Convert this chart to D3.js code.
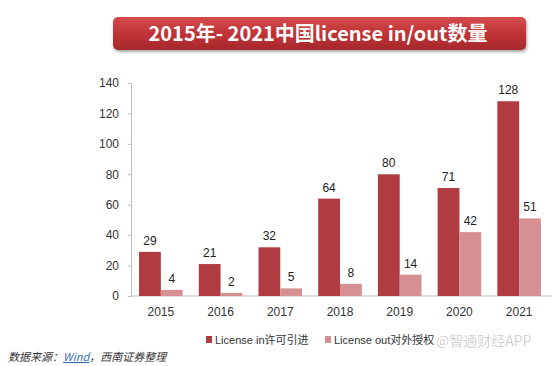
<!DOCTYPE html>
<html>
<head>
<meta charset="utf-8">
<script src="https://cdn.jsdelivr.net/npm/d3@7"></script>
<style>
  body { margin: 0; background: #fff; }
  svg { display: block; }
</style>
</head>
<body>
<div id="chart"></div>
<script>
// data
var years = ["2015", "2016", "2017", "2018", "2019", "2020", "2021"];
var licenseIn = [29, 21, 32, 64, 80, 71, 128];
var licenseOut = [4, 2, 5, 8, 14, 42, 51];
var yTicks = [0, 20, 40, 60, 80, 100, 120, 140];
var seriesNames = ["License in许可引进", "License out对外授权"];
var seriesColors = ["#b03b40", "#d69094"];

var width = 554, height = 366;

var svg = d3.select("#chart")
  .append("svg")
  .attr("width", width)
  .attr("height", height);

var defs = svg.append("defs");
var grad = defs.append("linearGradient")
  .attr("id", "titleGrad")
  .attr("x1", 0).attr("y1", 0).attr("x2", 0).attr("y2", 1);
grad.append("stop").attr("offset", "0%").attr("stop-color", "#d34b4c");
grad.append("stop").attr("offset", "55%").attr("stop-color", "#be3234");
grad.append("stop").attr("offset", "100%").attr("stop-color", "#a5292c");

var shadow = defs.append("filter").attr("id", "shadow")
  .attr("x", "-10%").attr("y", "-30%").attr("width", "120%").attr("height", "180%");
shadow.append("feDropShadow")
  .attr("dx", 1).attr("dy", 2).attr("stdDeviation", 1.5)
  .attr("flood-color", "#000").attr("flood-opacity", 0.35);

// title banner
svg.append("rect")
  .attr("x", 113).attr("y", 17)
  .attr("width", 413).attr("height", 33)
  .attr("rx", 5)
  .attr("fill", "url(#titleGrad)")
  .attr("filter", "url(#shadow)");

svg.append("text")
  .attr("x", 318).attr("y", 41)
  .attr("text-anchor", "middle")
  .attr("fill", "#fff")
  .style("font-family", "'Noto Sans CJK SC', 'Noto Sans', sans-serif")
  .style("font-weight", "bold")
  .style("font-size", "20px")
  .text("2015年- 2021中国license in/out数量");

// scales
var x0 = d3.scaleBand()
  .domain(years)
  .range([131, 549])
  .paddingInner(0.27)
  .paddingOuter(0.135);

var x1 = d3.scaleBand()
  .domain([0, 1])
  .range([0, x0.bandwidth()]);

var y = d3.scaleLinear()
  .domain([0, 140])
  .range([296, 83]);

// y axis
var yAxis = svg.append("g")
  .attr("transform", "translate(131,0)")
  .call(d3.axisLeft(y).tickValues(yTicks).tickSize(3).tickPadding(9));
yAxis.select(".domain").attr("stroke", "#bdbdbd");
yAxis.selectAll(".tick line").attr("stroke", "#bdbdbd");
yAxis.selectAll("text")
  .attr("fill", "#333")
  .style("font-family", "Arial, 'Liberation Sans', sans-serif")
  .style("font-size", "12px");

// x axis
var xAxis = svg.append("g")
  .attr("transform", "translate(0,296)")
  .call(d3.axisBottom(x0).tickSize(0).tickPadding(11));
xAxis.select(".domain").attr("stroke", "#bdbdbd").attr("d", "M131,0H552");
xAxis.selectAll("text")
  .attr("fill", "#333")
  .style("font-family", "Arial, 'Liberation Sans', sans-serif")
  .style("font-size", "12px");

// bars
var rows = years.map(function(d, i) { return [licenseIn[i], licenseOut[i]]; });

var group = svg.append("g").selectAll("g")
  .data(rows)
  .enter().append("g")
  .attr("transform", function(d, i) { return "translate(" + x0(years[i]) + ",0)"; });

group.selectAll("rect")
  .data(function(d) { return d; })
  .enter().append("rect")
  .attr("x", function(d, j) { return x1(j); })
  .attr("y", function(d) { return y(d); })
  .attr("width", x1.bandwidth())
  .attr("height", function(d) { return 296 - y(d); })
  .attr("fill", function(d, j) { return seriesColors[j]; });

group.selectAll("text")
  .data(function(d) { return d; })
  .enter().append("text")
  .attr("x", function(d, j) { return x1(j) + x1.bandwidth() / 2; })
  .attr("y", function(d) { return y(d) - 7; })
  .attr("text-anchor", "middle")
  .attr("fill", "#222")
  .style("font-family", "Arial, 'Liberation Sans', sans-serif")
  .style("font-size", "12px")
  .text(function(d) { return d; });

// legend
var legendX = [206, 325];
var legend = svg.append("g").selectAll("g")
  .data(seriesNames)
  .enter().append("g")
  .attr("transform", function(d, i) { return "translate(" + legendX[i] + ",340)"; });
legend.append("rect")
  .attr("x", 0).attr("y", -4)
  .attr("width", 6).attr("height", 7)
  .attr("fill", function(d, i) { return seriesColors[i]; });
legend.append("text")
  .attr("x", 9).attr("y", 4)
  .attr("fill", "#333")
  .style("font-family", "Arial, 'Noto Sans CJK SC', sans-serif")
  .style("font-size", "11px")
  .text(function(d) { return d; });

// watermark
svg.append("text")
  .attr("x", 436).attr("y", 346)
  .attr("fill", "#d0d0d0")
  .attr("opacity", 0.95)
  .style("font-family", "'Noto Sans CJK SC', sans-serif")
  .style("font-size", "14px")
  .text("@智通财经APP");

// source note
var src = svg.append("text")
  .attr("x", 8).attr("y", 361)
  .attr("fill", "#333")
  .style("font-family", "'Noto Sans CJK SC', sans-serif")
  .style("font-size", "11px")
  .style("font-style", "italic");
src.append("tspan").text("数据来源：");
src.append("tspan").attr("fill", "#3a6fb0").style("text-decoration", "underline").text("Wind");
src.append("tspan").text("，西南证券整理");
</script>
</body>
</html>
